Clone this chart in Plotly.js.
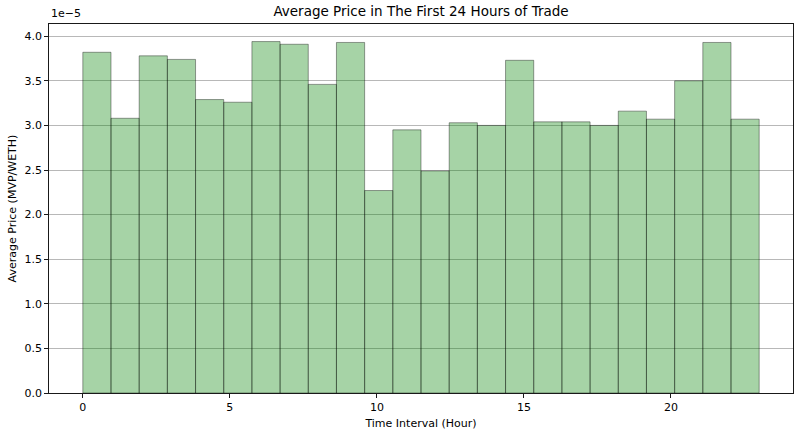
<!DOCTYPE html>
<html>
<head>
<meta charset="utf-8">
<script src="https://cdn.plot.ly/plotly-3.0.1.min.js"></script>
<style>
  html, body { margin: 0; padding: 0; background: #fff; }
  #chart { width: 800px; height: 434px; }
</style>
</head>
<body>
<div id="chart"></div>
<script>
// hour of trade (bin index) and the average price in that bin (MVP/WETH)
var hours = [0, 1, 2, 3, 4, 5, 6, 7, 8, 9, 10, 11,
             12, 13, 14, 15, 16, 17, 18, 19, 20, 21, 22, 23];
var avgPrice = [3.82e-5, 3.08e-5, 3.78e-5, 3.74e-5, 3.29e-5, 3.26e-5,
                3.94e-5, 3.91e-5, 3.46e-5, 3.93e-5, 2.27e-5, 2.95e-5,
                2.49e-5, 3.03e-5, 3.00e-5, 3.73e-5, 3.04e-5, 3.04e-5,
                3.00e-5, 3.16e-5, 3.07e-5, 3.50e-5, 3.93e-5, 3.07e-5];
var xTicks = [0, 5, 10, 15, 20];
var yTicks = [0, 0.5, 1.0, 1.5, 2.0, 2.5, 3.0, 3.5, 4.0];

var scale = 1e-5;
// 24 bins spread over the range of the hour values, like a histogram
var lo = Math.min.apply(null, hours), hi = Math.max.apply(null, hours);
var binWidth = (hi - lo) / hours.length;
var binStart = hours.map(function (h, i) { return lo + i * binWidth; });
var scaled = avgPrice.map(function (v) { return v / scale; });

var font = 'DejaVu Sans, sans-serif';

var data = [{
    type: 'bar',
    x: binStart,
    y: scaled,
    width: binWidth,
    offset: 0,
    marker: {
        color: 'rgba(0,128,0,0.35)',
        line: {color: 'rgba(0,0,0,0.38)', width: 1}
    },
    hoverinfo: 'x+y'
}];

var pad = 0.05 * (hi - lo);
var ymax = Math.max.apply(null, scaled) * 1.05;

var layout = {
    width: 800,
    height: 434,
    margin: {l: 49, r: 7, t: 24, b: 41},
    paper_bgcolor: '#fff',
    plot_bgcolor: '#fff',
    showlegend: false,
    bargap: 0,
    font: {family: font, size: 11, color: '#000'},
    title: {
        text: 'Average Price in The First 24 Hours of Trade',
        font: {family: font, size: 13.5, color: '#000'},
        x: 0.5, xref: 'paper', y: 0.975, yanchor: 'middle'
    },
    xaxis: {
        range: [lo - pad, hi + pad],
        tickvals: xTicks,
        ticks: 'outside', ticklen: 4, tickwidth: 0.9, tickcolor: '#000',
        showgrid: false, zeroline: false,
        showline: true, mirror: true, linecolor: '#000', linewidth: 0.9,
        tickfont: {family: font, size: 11},
        title: {text: 'Time Interval (Hour)', font: {family: font, size: 11}, standoff: 6}
    },
    yaxis: {
        range: [0, ymax],
        tickvals: yTicks,
        tickformat: '.1f',
        ticks: 'outside', ticklen: 4, tickwidth: 0.9, tickcolor: '#000',
        showgrid: true, gridcolor: '#b0b0b0', gridwidth: 0.9,
        zeroline: false,
        showline: true, mirror: true, linecolor: '#000', linewidth: 0.9,
        tickfont: {family: font, size: 11},
        title: {text: 'Average Price (MVP/WETH)', font: {family: font, size: 11}, standoff: 5}
    },
    annotations: [{
        text: '1e\u22125',
        xref: 'paper', yref: 'paper',
        x: 0, y: 1, xanchor: 'left', yanchor: 'bottom',
        yshift: 2,
        showarrow: false,
        font: {family: font, size: 11, color: '#000'}
    }]
};

Plotly.newPlot('chart', data, layout, {displayModeBar: false, staticPlot: true});
</script>
</body>
</html>
